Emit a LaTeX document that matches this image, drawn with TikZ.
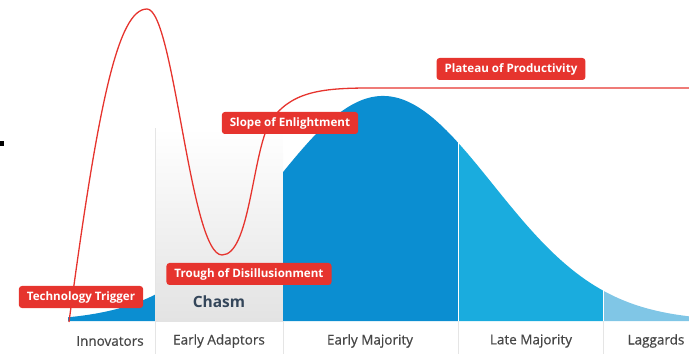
\documentclass[tikz,border=0pt]{standalone}
\usepackage{fontspec}
\setmainfont{Open Sans}
\usetikzlibrary{positioning}
\definecolor{hypered}{RGB}{230,52,46}
\definecolor{bluedark}{RGB}{11,142,209}
\definecolor{bluemid}{RGB}{26,172,222}
\definecolor{bluelight}{RGB}{128,198,230}
\definecolor{labelgray}{RGB}{70,70,70}
\definecolor{chasmtext}{RGB}{52,70,90}

\begin{document}
\begin{tikzpicture}[x=1pt,y=1pt,
    phase/.style={fill=hypered,text=white,rounded corners=3pt,font=\bfseries\fontsize{11.6}{13}\selectfont,
                  inner xsep=8pt,minimum height=22pt},
    group/.style={text=labelgray,font=\fontsize{13.5}{15}\selectfont\addfontfeature{FakeBold=0.6}},
    sep/.style={draw=gray!20,line width=0.8pt}]
  \useasboundingbox (0,0) rectangle (689,354);
  \def\bell#1{33+225*exp(-0.5*((#1-383)/110)^2)}

  % chasm
  \shade[top color=white,bottom color=gray!22] (155,33) rectangle (283,226);
  \node[text=chasmtext,font=\bfseries\fontsize{15.5}{17}\selectfont] (CH) at (219,52) {Chasm};

  % adoption curve
  \fill[bluedark] (68,33) -- plot[domain=68:155,samples=30] (\x,{\bell{\x}}) -- (155,33) -- cycle;
  \fill[bluedark] (283,33) -- plot[domain=283:458,samples=60] (\x,{\bell{\x}}) -- (458,33) -- cycle;
  \fill[bluemid] (458,33) -- plot[domain=458:603,samples=50] (\x,{\bell{\x}}) -- (603,33) -- cycle;
  \fill[bluelight] (603,33) -- plot[domain=603:689,samples=30] (\x,{\bell{\x}}) -- (689,33) -- cycle;
  \draw[white,line width=1pt] (458,33) -- (458,212) (603,33) -- (603,70);

  % separators
  \foreach \s in {155,283,458,603}
    \draw[sep] (\s,0) -- (\s,33);
  \draw[sep] (155,33) -- (155,226);

  % hype curve
  \draw[hypered,line width=1.3pt] (69,32) .. controls (98,250) and (118,345) .. (147,345)
        .. controls (174,345) and (190,99) .. (222,99)
        .. controls (250,99) and (252,200) .. (270,232)
        .. controls (290,262) and (320,266) .. (370,266) -- (689,266);

  % phase labels
  \node[phase] (TT) at (81,57)  {Technology Trigger};
  \node[phase] (TD) at (249,80) {Trough of Disillusionment};
  \node[phase] (SE) at (290,231) {Slope of Enlightment};
  \node[phase] (PP) at (511,285) {Plateau of Productivity};

  % adopter groups
  \node[group] (IN) at (110,13) {Innovators};
  \node[group] (EA) at (219,13) {Early Adaptors};
  \node[group] (EM) at (370,13) {Early Majority};
  \node[group] (LM) at (531,13) {Late Majority};
  \node[group] (LG) at (656,13) {Laggards};

  \fill[black] (0,208) rectangle (4,213);
\end{tikzpicture}
\end{document}
